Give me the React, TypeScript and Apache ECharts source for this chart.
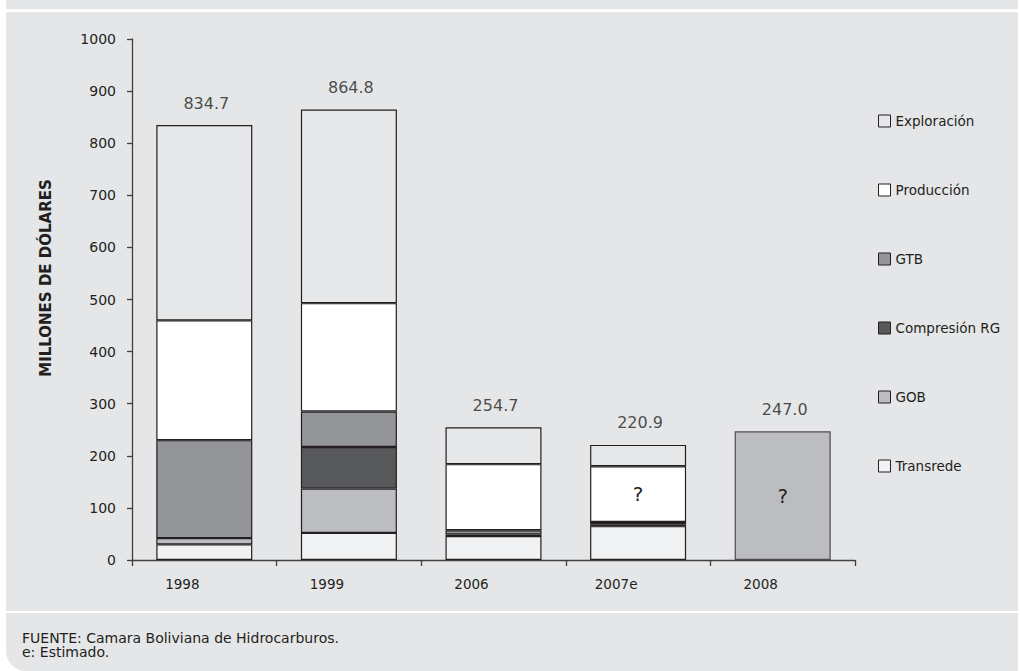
import React, { useEffect, useRef } from "react";
import * as echarts from "echarts";

const categories = ["1998", "1999", "2006", "2007e", "2008"];
const transrede = [30, 52, 46, 65, null];
const gob = [12, 85, 3, 3, null];
const compresion = [null, 80, null, null, null];
const gtb = [188, 68, 8, 5, null];
const produccion = [230, 208, 127, 107, null];
const exploracion = [374.7, 371.8, 70.7, 40.9, null];
const unknown2008 = [null, null, null, null, 247.0];
const totals = [834.7, 864.8, 254.7, 220.9, 247.0];
const yTicks = [0, 100, 200, 300, 400, 500, 600, 700, 800, 900, 1000];
const legendNames = ["Exploración", "Producción", "GTB", "Compresión RG", "GOB", "Transrede"];
const yTitle = "MILLONES DE DÓLARES";
const footnotes = ["FUENTE: Camara Boliviana de Hidrocarburos.", "e: Estimado."];

const FONT = "DejaVu Sans";
const TEXT = "#231f20";
const BORDER = "#231f20";
const BG = "#e5e6e8";

export default function App() {
  const ref = useRef<HTMLDivElement>(null);
  useEffect(() => {
    const chart = echarts.init(ref.current!, null, { renderer: "svg" });
    const bar = (name: string, data: any[], color: string) => ({
      name,
      type: "bar",
      stack: "s",
      data,
      barWidth: 96,
      itemStyle: { color, borderColor: BORDER, borderWidth: 1.2 },
      emphasis: { disabled: true },
    });
    const prodData = produccion.map((v, i) =>
      i === 3
        ? { value: v, label: { show: true, position: "inside", formatter: "?", fontSize: 20, color: TEXT, fontFamily: FONT } }
        : v
    );
    chart.setOption({
      animation: false,
      textStyle: { fontFamily: FONT },
      graphic: [
        { type: "rect", shape: { x: 6, y: 0, width: 1012, height: 9 }, style: { fill: BG }, z: -10 },
        { type: "rect", shape: { x: 6, y: 12, width: 1012, height: 599 }, style: { fill: BG }, z: -10 },
        { type: "rect", shape: { x: 6, y: 613, width: 1012, height: 58, r: [0, 0, 0, 20] }, style: { fill: BG }, z: -10 },
        {
          type: "text",
          left: 22,
          top: 631,
          style: { text: footnotes.join("\n"), font: `14px "${FONT}"`, fill: TEXT, lineHeight: 14 },
        },
        {
          type: "text",
          x: 46,
          y: 278,
          rotation: Math.PI / 2,
          style: {
            text: yTitle,
            font: `bold 15px "${FONT}"`,
            fill: TEXT,
            align: "center",
            verticalAlign: "middle",
          },
        },
      ],
      grid: { left: 132, right: 165, top: 39, bottom: 111, containLabel: false },
      legend: {
        orient: "vertical",
        left: 873,
        top: 109,
        data: legendNames,
        itemWidth: 12,
        itemHeight: 12,
        itemGap: 55,
        icon: "rect",
        selectedMode: false,
        textStyle: { fontSize: 13.5, color: TEXT, fontFamily: FONT, lineHeight: 14 },
        itemStyle: { borderColor: BORDER, borderWidth: 1 },
      },
      xAxis: {
        type: "category",
        data: categories,
        axisLine: { lineStyle: { color: "#404040", width: 1.3 } },
        axisTick: { show: true, length: 6, lineStyle: { color: "#404040", width: 1.3 } },
        axisLabel: { fontSize: 13.5, color: TEXT, margin: 17, padding: [0, 44, 0, 0], fontFamily: FONT },
      },
      yAxis: {
        type: "value",
        min: yTicks[0],
        max: yTicks[yTicks.length - 1],
        interval: 100,
        axisLine: { show: true, lineStyle: { color: "#404040", width: 1.3 } },
        axisTick: { show: true, length: 5, lineStyle: { color: "#404040", width: 1.3 } },
        axisLabel: { fontSize: 14, color: TEXT, margin: 16, fontFamily: FONT, formatter: (v: number) => String(v) },
        splitLine: { show: false },
      },
      series: [
        bar("Transrede", transrede, "#f1f2f3"),
        bar("GOB", gob, "#bcbdc0"),
        bar("Compresión RG", compresion, "#58595b"),
        bar("GTB", gtb, "#939598"),
        bar("Producción", prodData, "#ffffff"),
        bar("Exploración", exploracion, "#e6e7e9"),
        {
          ...bar("2008", unknown2008, "#bcbdc0"),
          itemStyle: { color: "#bcbdc0", borderColor: "#4d4d4f", borderWidth: 1.2 },
          label: { show: true, position: "inside", formatter: "?", fontSize: 20, color: TEXT, fontFamily: FONT },
        },
        {
          name: "total",
          type: "scatter",
          data: totals,
          symbolSize: 0,
          label: {
            show: true,
            position: "top",
            distance: 14,
            offset: [2, 0],
            fontSize: 16,
            color: TEXT,
            fontFamily: FONT,
            formatter: (p: any) => Number(p.value).toFixed(1),
          },
          emphasis: { disabled: true },
          z: 10,
        },
      ],
    });
    return () => chart.dispose();
  }, []);
  return (
    <div style={{ position: "fixed", left: 0, top: 0, width: 1020, height: 671, background: "#ffffff" }}>
      <div ref={ref} style={{ width: 1020, height: 671 }} />
    </div>
  );
}
